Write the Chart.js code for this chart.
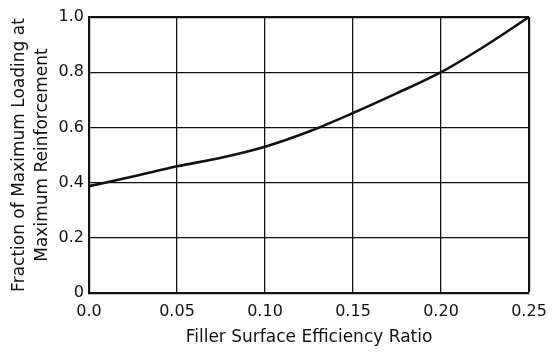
<!DOCTYPE html>
<html>
<head>
<meta charset="utf-8">
<script src="https://cdn.jsdelivr.net/npm/chart.js@4/dist/chart.umd.min.js"></script>
<style>
  html, body { margin: 0; padding: 0; background: #fff; }
  #wrap { width: 557px; height: 355px; }
</style>
</head>
<body>
<div id="wrap"><canvas id="chart" width="557" height="355"></canvas></div>
<script>
// valeurs
const ratio = [0, 0.025, 0.05, 0.075, 0.10, 0.125, 0.15, 0.175, 0.20, 0.225, 0.25];
const fraction = [0.387, 0.422, 0.459, 0.49, 0.53, 0.585, 0.652, 0.724, 0.80, 0.895, 1.0];
const xTickLabels = ['0.0', '0.05', '0.10', '0.15', '0.20', '0.25'];
const yTickLabels = ['0', '0.2', '0.4', '0.6', '0.8', '1.0'];

const ink = '#111';
const points = ratio.map(function(x, i) { return { x: x, y: fraction[i] }; });

new Chart(document.getElementById('chart'), {
    type: 'line',
    data: {
        datasets: [{
            data: points,
            borderColor: ink,
            borderWidth: 2.6,
            pointRadius: 0,
            fill: false,
            cubicInterpolationMode: 'monotone'
        }]
    },
    options: {
        responsive: false,
        animation: false,
        layout: { padding: { left: 0, right: 28, top: 17, bottom: 0 } },
        plugins: { legend: { display: false }, tooltip: { enabled: false } },
        scales: {
            x: {
                type: 'linear',
                min: 0,
                max: 0.25,
                afterFit: function(axis) { axis.height = 62; },
                ticks: {
                    stepSize: 0.05,
                    padding: 9,
                    color: ink,
                    font: { family: 'DejaVu Sans', size: 16 },
                    maxRotation: 0,
                    callback: function(v, i) { return xTickLabels[i]; }
                },
                grid: {
                    drawTicks: false,
                    color: ink,
                    lineWidth: function(c) { return c.index === xTickLabels.length - 1 ? 2.2 : 1.3; }
                },
                border: { display: true, color: ink, width: 2.2 },
                title: {
                    display: true,
                    text: 'Filler Surface Efficiency Ratio',
                    color: ink,
                    font: { family: 'DejaVu Sans', size: 17, lineHeight: 1.3 },
                    padding: { top: 0, bottom: 6 }
                }
            },
            y: {
                min: 0,
                max: 1,
                afterFit: function(axis) { axis.width = 89; },
                ticks: {
                    stepSize: 0.2,
                    padding: 5,
                    color: ink,
                    font: { family: 'DejaVu Sans', size: 16 },
                    callback: function(v, i) { return yTickLabels[i]; }
                },
                grid: {
                    drawTicks: false,
                    color: ink,
                    lineWidth: function(c) { return c.index === yTickLabels.length - 1 ? 2.2 : 1.3; }
                },
                border: { display: true, color: ink, width: 2.2 },
                title: {
                    display: true,
                    text: ['Fraction of Maximum Loading at', 'Maximum Reinforcement'],
                    color: ink,
                    font: { family: 'DejaVu Sans', size: 17, lineHeight: 1.3 },
                    padding: { top: 9, bottom: 0 }
                }
            }
        }
    }
});
</script>
</body>
</html>
